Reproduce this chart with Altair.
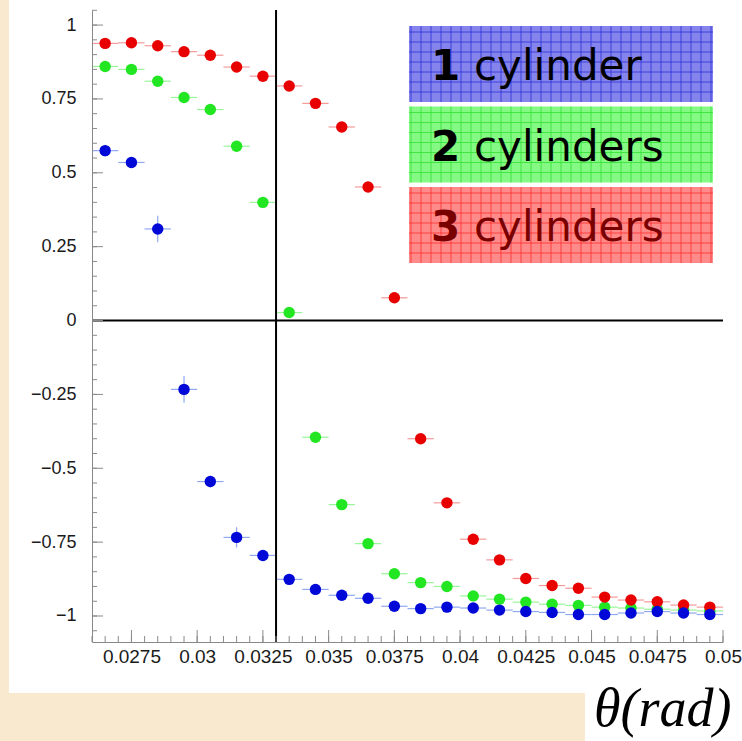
import altair as alt
import pandas as pd

# ---- data ----
theta = [0.0265, 0.0275, 0.0285, 0.0295, 0.0305, 0.0315, 0.0325, 0.0335,
         0.0345, 0.0355, 0.0365, 0.0375, 0.0385, 0.0395, 0.0405, 0.0415,
         0.0425, 0.0435, 0.0445, 0.0455, 0.0465, 0.0475, 0.0485, 0.0495]
one_cyl = [0.575, 0.535, 0.31, -0.233, -0.545, -0.734, -0.795, -0.876,
           -0.91, -0.93, -0.94, -0.967, -0.975, -0.97, -0.973, -0.98,
           -0.985, -0.988, -0.995, -0.995, -0.99, -0.985, -0.99, -0.995]
one_err = [0.02, 0.015, 0.045, 0.045, 0.02, 0.034, 0.015, 0.012,
           0.01, 0.01, 0.01, 0.01, 0.01, 0.01, 0.01, 0.01,
           0.01, 0.01, 0.01, 0.01, 0.01, 0.01, 0.01, 0.01]
two_cyl = [0.86, 0.85, 0.81, 0.755, 0.714, 0.59, 0.40, 0.027,
           -0.395, -0.623, -0.755, -0.857, -0.887, -0.90, -0.932, -0.943,
           -0.953, -0.96, -0.964, -0.97, -0.973, -0.977, -0.98, -0.983]
three_cyl = [0.938, 0.94, 0.93, 0.91, 0.898, 0.858, 0.827, 0.794,
             0.735, 0.655, 0.452, 0.077, -0.40, -0.617, -0.74, -0.81,
             -0.873, -0.897, -0.906, -0.936, -0.946, -0.952, -0.963, -0.97]
small_err = [0.01] * 24
half_bin = 0.0005

series_names = ["2 cylinders", "3 cylinders", "1 cylinder"]
series_vals = [two_cyl, three_cyl, one_cyl]
series_errs = [small_err, small_err, one_err]
series_colors = ["#22e622", "#e80000", "#0008d8"]
series_bar_colors = ["#9af59a", "#f59a9a", "#8fa8f0"]

x_ticks = [0.0275, 0.03, 0.0325, 0.035, 0.0375, 0.04, 0.0425, 0.045, 0.0475, 0.05]
x_minor = [0.026 + 0.0005 * i for i in range(49)]
y_ticks = [-1, -0.75, -0.5, -0.25, 0, 0.25, 0.5, 0.75, 1]
y_minor = [-1.05 + 0.05 * i for i in range(43)]
v_line = [0.033]
h_line = [0.0]

legend_nums = ["1", "2", "3"]
legend_words = ["cylinder", "cylinders", "cylinders"]
legend_fill = ["#8484ec", "#84f984", "#ff8a8a"]
legend_grid = ["#2a2ad8", "#2ee02e", "#ff2a2a"]
legend_text = ["#000000", "#000000", "#7a0000"]
x_title = ["θ(rad)"]

# ---- tables ----
rows = []
for name, vals, errs, col, bcol in zip(series_names, series_vals, series_errs,
                                       series_colors, series_bar_colors):
    for t, v, e in zip(theta, vals, errs):
        rows.append(dict(series=name, theta=t, val=v, xlo=t - half_bin, xhi=t + half_bin,
                         ylo=v - e, yhi=v + e, col=col, bcol=bcol,
                         order=series_names.index(name)))
df = pd.DataFrame(rows)

W, H = 631, 632
XD = [0.026, 0.05]
YD = [-1.088, 1.051]
xs = alt.Scale(domain=XD, nice=False, zero=False)
ys = alt.Scale(domain=YD, nice=False, zero=False)


def px2x(p):
    return XD[0] + p / W * (XD[1] - XD[0])


def px2y(p):
    return YD[1] - p / H * (YD[1] - YD[0])


axis_common = dict(tickSize=0, labelFont="Liberation Sans", labelColor="#1a1a1a",
                   domainColor="#888", labelOverlap=False, labelFlush=False,
                   grid=False, zindex=2, title=None, format=".4~g")

# white panel behind plot + axis labels
panel = alt.Chart(pd.DataFrame({"a": [0]})).mark_rect(color="white").encode(
    x=alt.value(-83), x2=alt.value(650), y=alt.value(-10), y2=alt.value(683))
title_bg = alt.Chart(pd.DataFrame({"a": [0]})).mark_rect(color="white").encode(
    x=alt.value(493), x2=alt.value(660), y=alt.value(683), y2=alt.value(740))

base = alt.Chart(df)
xerr = base.mark_rule(strokeWidth=1.2).encode(
    x=alt.X("xlo:Q", scale=xs, axis=alt.Axis(values=x_ticks, labelFontSize=19,
                                             labelPadding=5, **axis_common)),
    x2="xhi:Q",
    y=alt.Y("val:Q", scale=ys, axis=alt.Axis(values=y_ticks, labelFontSize=18,
                                             labelPadding=16, **axis_common)),
    color=alt.Color("bcol:N", scale=None))
yerr = base.mark_rule(strokeWidth=1.2).encode(
    x="theta:Q", y="ylo:Q", y2="yhi:Q", color=alt.Color("bcol:N", scale=None))
pts = base.mark_circle(size=130, opacity=1).encode(
    x="theta:Q", y="val:Q", color=alt.Color("col:N", scale=None),
    order=alt.Order("order:Q"))

vline = alt.Chart(pd.DataFrame({"v": v_line})).mark_rule(color="black", strokeWidth=2).encode(
    x=alt.X("v:Q", scale=xs), y=alt.value(0), y2=alt.value(H))
hline = alt.Chart(pd.DataFrame({"v": h_line})).mark_rule(color="black", strokeWidth=2).encode(
    y=alt.Y("v:Q", scale=ys), x=alt.value(0), x2=alt.value(W))

tick_col = "#8a8a8a"
ytk = alt.Chart(pd.DataFrame({"v": y_ticks})).mark_rule(color=tick_col).encode(
    y=alt.Y("v:Q", scale=ys), x=alt.value(0), x2=alt.value(11))
ytm = alt.Chart(pd.DataFrame({"v": y_minor})).mark_rule(color=tick_col).encode(
    y=alt.Y("v:Q", scale=ys), x=alt.value(0), x2=alt.value(5))
xtk = alt.Chart(pd.DataFrame({"v": x_ticks})).mark_rule(color=tick_col).encode(
    x=alt.X("v:Q", scale=xs), y=alt.value(H), y2=alt.value(H - 12))
xtm = alt.Chart(pd.DataFrame({"v": x_minor})).mark_rule(color=tick_col).encode(
    x=alt.X("v:Q", scale=xs), y=alt.value(H), y2=alt.value(H - 6))

# legend boxes (layout in pixels, converted to the shared data scales)
box_left, box_right, box_top0, box_h, box_step = 317, 621, 16, 76, 80.5
leg_rows = []
for i in range(3):
    top = box_top0 + box_step * i
    leg_rows.append(dict(num=legend_nums[i], word=legend_words[i], fill=legend_fill[i],
                         tcol=legend_text[i],
                         l=px2x(box_left), r=px2x(box_right),
                         top=px2y(top), bot=px2y(top + box_h),
                         base=px2y(top + 54),
                         nx=px2x(box_left + 22), wx=px2x(box_left + 65)))
leg = pd.DataFrame(leg_rows)

boxes = alt.Chart(leg).mark_rect().encode(
    x=alt.X("l:Q", scale=xs), x2="r:Q", y=alt.Y("top:Q", scale=ys), y2="bot:Q",
    color=alt.Color("fill:N", scale=None))

grid_rows = []
for i in range(3):
    top = box_top0 + box_step * i
    for k in range(31):
        gx = box_left + 10 * k + 2
        if gx < box_right:
            grid_rows.append(dict(x1=px2x(gx), x2=px2x(gx), y1=px2y(top), y2=px2y(top + box_h),
                                  c=legend_grid[i]))
    for k in range(8):
        gy = top + 10 * k + 6
        if gy < top + box_h:
            grid_rows.append(dict(x1=px2x(box_left), x2=px2x(box_right), y1=px2y(gy), y2=px2y(gy),
                                  c=legend_grid[i]))
grid = alt.Chart(pd.DataFrame(grid_rows)).mark_rule(strokeWidth=1, opacity=0.75).encode(
    x=alt.X("x1:Q", scale=xs), x2="x2:Q", y=alt.Y("y1:Q", scale=ys), y2="y2:Q",
    color=alt.Color("c:N", scale=None))

nums = alt.Chart(leg).mark_text(align="left", baseline="alphabetic", font="DejaVu Sans",
                                fontWeight="bold", fontSize=42).encode(
    x=alt.X("nx:Q", scale=xs), y=alt.Y("base:Q", scale=ys), text="num:N",
    color=alt.Color("tcol:N", scale=None))
words = alt.Chart(leg).mark_text(align="left", baseline="alphabetic", font="DejaVu Sans",
                                 fontSize=42).encode(
    x=alt.X("wx:Q", scale=xs), y=alt.Y("base:Q", scale=ys), text="word:N",
    color=alt.Color("tcol:N", scale=None))

xt = alt.Chart(pd.DataFrame({"t": x_title})).mark_text(
    align="left", baseline="alphabetic", font="Liberation Serif", fontStyle="italic",
    fontSize=54, color="black").encode(x=alt.value(502), y=alt.value(716), text="t:N")

chart = alt.layer(
    panel, title_bg, xerr, hline, vline, yerr, pts, ytk, ytm, xtk, xtm,
    boxes, grid, nums, words, xt
).properties(
    width=W, height=H,
    autosize=alt.AutoSizeParams(type="none"),
    padding={"left": 92, "top": 10, "right": 19, "bottom": 99},
    background="#f9e9cf",
).configure_view(stroke="#b5b5b5", strokeWidth=1, fill="white")

chart.save("out.html", embed_options={"renderer": "svg", "actions": False})
